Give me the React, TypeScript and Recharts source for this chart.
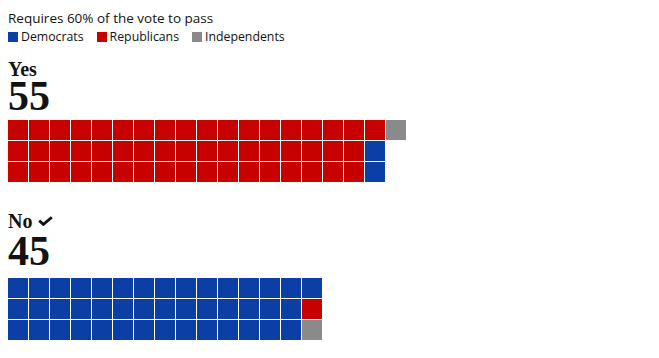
import React from 'react'
import { ScatterChart, Scatter, XAxis, YAxis } from 'recharts'

const parties = ['Democrats', 'Republicans', 'Independents']
const partyColors = ['#0c3fa6', '#c70000', '#8a8a8a']

const yesVotes = [2, 52, 1]
const noVotes = [43, 1, 1]

const ROWS = 3
const COLS = 20

type Cell = { x: number; y: number; party: number }

// fill the grid column by column, biggest group first
function buildCells(votes: number[]): Cell[] {
  const order = votes
    .map((v, i) => ({ v, i }))
    .sort((a, b) => b.v - a.v)
  const cells: Cell[] = []
  let k = 0
  order.forEach(({ v, i }) => {
    for (let n = 0; n < v; n++) {
      const col = Math.floor(k / ROWS)
      const row = k % ROWS
      cells.push({ x: col + 0.5, y: row + 0.5, party: i })
      k++
    }
  })
  return cells
}

const Square = (props: any) => {
  const { cx, cy, fill } = props
  return <rect x={cx - 10.5} y={cy - 10.5} width={20} height={20} fill={fill} />
}

function Waffle({ votes }: { votes: number[] }) {
  const cells = buildCells(votes)
  return (
    <ScatterChart width={COLS * 21} height={ROWS * 21} margin={{ top: 0, right: 0, bottom: 0, left: 0 }}>
      <XAxis type="number" dataKey="x" domain={[0, COLS]} hide />
      <YAxis type="number" dataKey="y" domain={[0, ROWS]} reversed hide />
      {parties.map((p, i) => (
        <Scatter
          key={p}
          name={p}
          data={cells.filter((c) => c.party === i)}
          fill={partyColors[i]}
          shape={<Square />}
          isAnimationActive={false}
        />
      ))}
    </ScatterChart>
  )
}

const sans = '"Open Sans", sans-serif'
const serif = '"Liberation Serif", serif'

const abs = (top: number, left = 0): React.CSSProperties => ({ position: 'absolute', top, left })
const label: React.CSSProperties = { fontFamily: serif, fontWeight: 700, fontSize: 20, lineHeight: '18px' }
const total: React.CSSProperties = { fontFamily: serif, fontWeight: 700, fontSize: 42, lineHeight: '36px' }

export default function App() {
  return (
    <div style={{ position: 'relative', width: 643, height: 342, color: '#121212' }}>
      <div style={{ ...abs(2), fontFamily: sans, fontSize: 13.5, lineHeight: '16px' }}>
        Requires 60% of the vote to pass
      </div>
      <div style={{ ...abs(21), display: 'flex', fontFamily: sans, fontSize: 12.3, lineHeight: '15px' }}>
        {parties.map((p, i) => (
          <div key={p} style={{ display: 'flex', alignItems: 'center', marginRight: 13 }}>
            <span style={{ width: 10, height: 10, background: partyColors[i], marginRight: 3 }} />
            {p}
          </div>
        ))}
      </div>
      <div style={{ ...abs(51.5), ...label }}>Yes</div>
      <div style={{ ...abs(69.8), ...total }}>{yesVotes.reduce((a, b) => a + b, 0)}</div>
      <div style={abs(112)}>
        <Waffle votes={yesVotes} />
      </div>
      <div style={{ ...abs(203.5), ...label }}>No</div>
      <svg width={15} height={10} viewBox="0 0 15 10" style={abs(208, 30)}>
        <path d="M1.2 4.6 L5.4 8.4 L13.8 1.2" stroke="#121212" strokeWidth={2.8} fill="none" />
      </svg>
      <div style={{ ...abs(224.8), ...total }}>{noVotes.reduce((a, b) => a + b, 0)}</div>
      <div style={abs(270)}>
        <Waffle votes={noVotes} />
      </div>
    </div>
  )
}
